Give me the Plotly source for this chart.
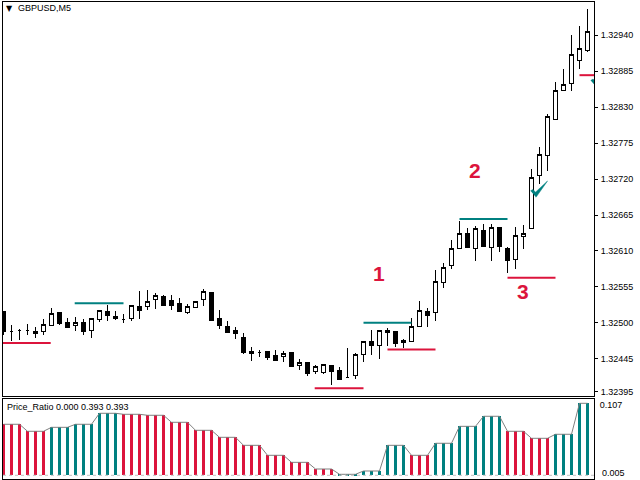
import plotly.graph_objects as go
from plotly.subplots import make_subplots

RED = "#dc143c"
TEAL = "#008080"
FONT = "Liberation Sans"

# M5 candles, in points above 1.32000
opens = [518, 486, 488, 489, 484, 487, 496, 516, 501, 496, 501, 488, 505, 518, 510, 505, 506, 525, 525, 536,
         541, 534, 529, 516, 523, 535, 547, 506, 495, 488, 477, 456, 454, 456, 450, 448, 454, 435, 439, 426,
         424, 434, 427, 416, 419, 451, 472, 466, 488, 486, 473, 472, 494, 518, 516, 562, 587, 613, 636, 613,
         642, 616, 646, 613, 597, 632, 645, 726, 756, 811, 855, 866, 901, 917]
highs = [518, 497, 491, 498, 494, 506, 523, 516, 508, 509, 506, 507, 519, 528, 518, 513, 527, 549, 550, 545,
         542, 543, 538, 529, 533, 552, 547, 520, 503, 494, 485, 463, 459, 456, 459, 457, 456, 445, 439, 436,
         436, 436, 433, 462, 454, 472, 489, 488, 492, 488, 476, 508, 534, 522, 581, 591, 627, 656, 645, 648,
         652, 651, 646, 616, 646, 649, 735, 769, 820, 868, 888, 940, 955, 980]
lows = [482, 472, 474, 482, 477, 482, 496, 496, 493, 488, 481, 477, 502, 503, 505, 499, 503, 506, 519, 521,
        526, 519, 517, 513, 523, 525, 503, 491, 484, 475, 453, 442, 448, 443, 442, 440, 432, 428, 419, 422,
        422, 405, 414, 415, 414, 440, 451, 445, 465, 463, 462, 472, 494, 493, 503, 553, 582, 613, 614, 594,
        616, 594, 609, 577, 583, 613, 645, 713, 733, 811, 855, 855, 889, 914]
closes = [487, 486, 488, 489, 487, 498, 515, 499, 493, 500, 487, 507, 519, 511, 506, 505, 527, 519, 532, 542,
          527, 527, 517, 525, 533, 548, 503, 496, 485, 484, 454, 453, 454, 447, 443, 453, 433, 439, 422, 433,
          436, 425, 414, 416, 451, 471, 465, 488, 485, 468, 470, 494, 519, 511, 564, 585, 613, 636, 616, 645,
          617, 646, 617, 596, 634, 637, 723, 758, 816, 856, 865, 911, 920, 946]

# horizontal levels: start bar, end bar, price
red_levels = [(-0.1, 5.9, 1.32469), (38.9, 45, 1.32400), (48, 54, 1.32459), (63, 69, 1.32569), (72, 73.9, 1.32879)]
teal_levels = [(8.9, 15, 1.32530), (45, 51, 1.32500), (57, 63, 1.32659)]

# check marks (signal arrows), bar / price outline
check_x = [65.875, 66.19, 66.5, 68, 66.56]
check_y = [1.32702, 1.32704, 1.32700, 1.32717, 1.32692]
check2_x = [73.4, 73.7, 74.0, 75.5, 74.1]
check2_y = [1.32871, 1.32873, 1.32869, 1.32886, 1.32861]

price_ticks = [1.32940, 1.32885, 1.32830, 1.32775, 1.32720, 1.32665, 1.32610, 1.32555, 1.32500, 1.32445, 1.32395]

# Price_Ratio, one value per three bars
ratio_groups = [0.0771, 0.0665, 0.0725, 0.0771, 0.0937, 0.0922, 0.0907, 0.0801, 0.0680, 0.0574, 0.0453, 0.0302,
                0.0196, 0.0095, 0.0015, 0.0065, 0.0453, 0.0302, 0.0484, 0.0740, 0.0892, 0.0665, 0.0559, 0.0620,
                0.1088]
group_colors = [RED, RED, TEAL, TEAL, TEAL, RED, RED, RED, RED, RED, RED, RED,
                RED, RED, TEAL, TEAL, TEAL, RED, TEAL, TEAL, TEAL, RED, RED, TEAL,
                TEAL]

n_bars = len(opens)
bars = list(range(n_bars))
ratio = [ratio_groups[i // 3] for i in bars]
ratio_colors = [group_colors[i // 3] for i in bars]

to_price = lambda pts: [1.32 + p / 100000 for p in pts]

fig = make_subplots(rows=2, cols=1)

fig.add_trace(go.Candlestick(
    x=bars,
    open=to_price(opens), high=to_price(highs), low=to_price(lows), close=to_price(closes),
    increasing=dict(fillcolor="white", line=dict(color="black", width=1)),
    decreasing=dict(fillcolor="black", line=dict(color="black", width=1)),
    whiskerwidth=0,
), row=1, col=1)

for levels, color in [(red_levels, RED), (teal_levels, TEAL)]:
    for x0, x1, level in levels:
        fig.add_trace(go.Scatter(
            x=[x0, x1], y=[level, level], mode="lines",
            line=dict(color=color, width=2),
        ), row=1, col=1)

for xs, ys in [(check_x, check_y), (check2_x, check2_y)]:
    fig.add_trace(go.Scatter(
        x=xs, y=ys, mode="lines", fill="toself", fillcolor=TEAL,
        line=dict(color=TEAL, width=0.5),
    ), row=1, col=1)

fig.add_trace(go.Bar(x=bars, y=ratio, marker_color=ratio_colors, marker_line_width=0, width=0.45), row=2, col=1)
fig.add_trace(go.Scatter(x=bars, y=ratio, mode="lines", line=dict(color="#808080", width=1)), row=2, col=1)

x_range = [-0.0625, 73.8125]

fig.add_shape(type="line", xref="x2", yref="y2", x0=x_range[0], x1=x_range[1], y0=0, y1=0,
              line=dict(color="#c0c0c0", width=1, dash="dot"))

axis_style = dict(showgrid=False, zeroline=False, showline=True, mirror=True, linecolor="black", linewidth=1)

fig.update_xaxes(range=x_range, showticklabels=False, ticks="", rangeslider_visible=False, **axis_style)
fig.update_yaxes(side="right", **axis_style)

fig.update_xaxes(domain=[3 / 640, 594 / 640])
fig.update_yaxes(
    row=1, col=1, domain=[84 / 480, 478 / 480],
    range=[1.32388, 1.32991],
    tickvals=price_ticks, tickformat=".5f", ticklabelstandoff=1,
    ticks="outside", ticklen=3, tickcolor="black", tickwidth=1,
)
fig.update_yaxes(
    row=2, col=1, domain=[1 / 480, 81 / 480],
    range=[-0.0056, 0.1153],
    tickvals=[0.107, 0], ticktext=["0.107", "0.00"],
    ticks="", ticklabelstandoff=3,
)

label_font = dict(family=FONT, size=9, color="black")
big_font = dict(family=FONT, size=21, color=RED)
for text, px, py, font in [
    ("▼", 5.5, 8.5, dict(family="DejaVu Sans", size=8, color="black")),
    ("GBPUSD,M5", 18, 8.5, label_font),
    ("Price_Ratio 0.000 0.393 0.393", 7, 407, label_font),
    ("0.005", 602, 472.5, label_font),
    ("<b>1</b>", 373, 273, big_font),
    ("<b>2</b>", 469, 170, big_font),
    ("<b>3</b>", 517, 291, big_font),
]:
    fig.add_annotation(
        text=text,
        xref="paper", yref="paper", x=px / 640, y=1 - py / 480,
        xanchor="left", yanchor="middle", showarrow=False, font=font,
        borderpad=0, borderwidth=0,
    )

fig.update_layout(
    width=640, height=480,
    margin=dict(l=0, r=0, t=0, b=0),
    paper_bgcolor="white", plot_bgcolor="white",
    showlegend=False, bargap=0, boxgap=0.38,
    font=label_font,
)

# keep the candles sharp like the terminal draws them
page_js = (
    "document.body.style.margin='0';document.body.style.overflow='hidden';"
    "var s=document.createElement('style');"
    "s.textContent='.boxlayer path{shape-rendering:crispEdges}';"
    "document.head.appendChild(s);"
)
fig.write_html("out.html", config=dict(displayModeBar=False), post_script=page_js)
